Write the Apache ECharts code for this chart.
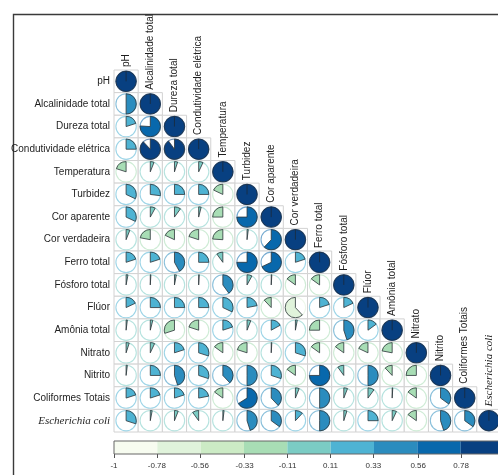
<!DOCTYPE html>
<html><head><meta charset="utf-8">
<script src="https://cdn.jsdelivr.net/npm/echarts@6/dist/echarts.min.js"></script>
<style>html,body{margin:0;padding:0;background:#fff}#c{width:498px;height:475px}</style>
</head><body><div id="c"></div>
<script>
const variables = ['pH','Alcalinidade total','Dureza total','Condutividade elétrica','Temperatura','Turbidez','Cor aparente','Cor verdadeira','Ferro total','Fósforo total','Flúor','Amônia total','Nitrato','Nitrito','Coliformes Totais','Escherichia coli'];

// lower-triangle correlation rows (column order = variables)
const r_pH            = [1];
const r_alcalinidade  = [0.50, 1];
const r_dureza        = [0.20, 0.76, 1];
const r_condutividade = [0.25, 0.88, 0.90, 1];
const r_temperatura   = [-0.20, 0.06, 0.05, 0.07, 1];
const r_turbidez      = [0.32, 0.27, 0.25, 0.25, -0.18, 1];
const r_corAparente   = [0.32, 0.08, 0.10, 0.04, -0.25, 0.75, 1];
const r_corVerdadeira = [0.06, -0.22, -0.18, -0.20, -0.24, 0.02, 0.62, 1];
const r_ferro         = [0.20, 0.20, 0.42, 0.25, -0.10, 0.75, 0.68, 0.20, 1];
const r_fosforo       = [0.03, 0.01, 0.03, 0.01, 0.40, 0.08, 0.01, -0.15, -0.15, 1];
const r_fluor         = [0.18, 0.25, 0.25, 0.25, 0.32, 0.22, -0.12, -0.62, 0.20, 0.18, 1];
const r_amonia        = [0.02, 0.04, -0.30, -0.20, 0.20, 0.06, 0.17, 0.03, -0.25, 0.45, 0.15, 1];
const r_nitrato       = [0.05, 0.07, 0.20, 0.30, -0.15, -0.20, 0.01, 0.30, -0.15, -0.15, -0.18, -0.22, 1];
const r_nitrito       = [0.02, 0.25, 0.45, 0.30, 0.38, 0.50, 0.30, -0.15, 0.75, -0.10, 0.50, -0.12, -0.25, 1];
const r_coliformes    = [0.20, 0.20, 0.20, 0.22, -0.15, 0.66, 0.38, 0.06, 0.50, 0.06, 0.10, 0.01, -0.15, 0.35, 1];
const r_ecoli         = [0.30, 0.03, 0.06, -0.10, 0.02, 0.45, 0.35, 0.12, 0.50, 0.05, 0.25, 0.07, -0.15, 0.45, 0.35, 1];

const rows = [r_pH, r_alcalinidade, r_dureza, r_condutividade, r_temperatura, r_turbidez, r_corAparente, r_corVerdadeira, r_ferro, r_fosforo, r_fluor, r_amonia, r_nitrato, r_nitrito, r_coliformes, r_ecoli];

const palette = ['#f7fcf0','#e0f3db','#ccebc5','#a8ddb5','#7bccc4','#4eb3d3','#2b8cbe','#0868ac','#084081'];
const scaleTicks = [-1, -0.78, -0.56, -0.33, -0.11, 0.11, 0.33, 0.56, 0.78, 1];
const scaleLabels = ['-1','-0.78','-0.56','-0.33','-0.11','0.11','0.33','0.56','0.78','1'];

function colorOf(v){
  let i = Math.floor((v + 1) / (2/9));
  if (i < 0) i = 0; if (i > 8) i = 8;
  return palette[i];
}
function lighten(hex, t){
  const n = parseInt(hex.slice(1),16);
  const r=(n>>16)&255,g=(n>>8)&255,b=n&255;
  const f=c=>Math.round(c+(255-c)*t);
  return 'rgb('+f(r)+','+f(g)+','+f(b)+')';
}

const cells = [];
rows.forEach((row, i) => row.forEach((v, j) => cells.push([j, i, v])));

const bins = [];
for (let k = 0; k < 9; k++) bins.push([-1 + k*2/9, -1 + (k+1)*2/9, k]);

const font = 'Liberation Sans, Arial, sans-serif';
const serif = 'Liberation Serif, Times New Roman, serif';

function renderCell(params, api){
  const x = api.value(0), y = api.value(1), v = api.value(2);
  const c = api.coord([x, y]);
  const s = api.size([1, 1]);
  const cw = s[0], ch = s[1];
  const r = 10.2;
  const col = colorOf(v);
  const children = [];
  children.push({type:'rect', shape:{x:c[0]-cw/2, y:c[1]-ch/2, width:cw, height:ch},
    style:{fill:'#fff', stroke:'#d2d2d2', lineWidth:1}});
  children.push({type:'circle', shape:{cx:c[0], cy:c[1], r:r},
    style:{fill:'#fff', stroke:lighten(col, 0.45), lineWidth:1.1}});
  const a0 = -Math.PI/2;
  if (Math.abs(v) >= 0.999) {
    children.push({type:'circle', shape:{cx:c[0], cy:c[1], r:r}, style:{fill:col, stroke:'#1b2a3a', lineWidth:0.8}});
    children.push({type:'line', shape:{x1:c[0], y1:c[1], x2:c[0], y2:c[1]-r}, style:{stroke:'#1b2a3a', lineWidth:0.8}});
  } else {
    const ang = Math.abs(v) * Math.PI * 2;
    const pos = v >= 0;
    children.push({type:'sector', shape:{cx:c[0], cy:c[1], r0:0, r:r, startAngle:a0,
      endAngle: pos ? a0 + ang : a0 - ang, clockwise: pos},
      style:{fill:col, stroke:'#2b3338', lineWidth:0.8, lineJoin:'round'}});
  }
  if (x === y) {
    const name = variables[x];
    const isE = name === 'Escherichia coli';
    children.push({type:'text', x:c[0], y:c[1]-ch/2-3, rotation:Math.PI/2,
      style:{text:name, fill:'#1e1e1e', fontSize: isE ? 11 : 10, fontFamily: isE ? serif : font,
        fontStyle: isE ? 'italic' : 'normal', align:'left', verticalAlign:'middle'}});
  }
  return {type:'group', children:children};
}

function renderBin(params, api){
  const lo = api.value(0), hi = api.value(1), k = api.value(2);
  const p0 = api.coord([lo, 1]), p1 = api.coord([hi, 0]);
  return {type:'rect', shape:{x:p0[0], y:p0[1], width:p1[0]-p0[0], height:p1[1]-p0[1]},
    style:{fill:palette[k]}};
}
function renderOutline(params, api){
  const p0 = api.coord([-1, 1]), p1 = api.coord([1, 0]);
  return {type:'rect', shape:{x:p0[0], y:p0[1], width:p1[0]-p0[0], height:p1[1]-p0[1]},
    style:{fill:'none', stroke:'#666', lineWidth:1}};
}

const chart = echarts.init(document.getElementById('c'), null, {renderer:'canvas'});
chart.setOption({
  animation:false,
  backgroundColor:'#fff',
  graphic:[{type:'rect', left:11, top:12, shape:{width:600, height:600},
    style:{fill:'none', stroke:'#3a3a3a', lineWidth:1.4}, z:-10}],
  grid:[
    {left:114, top:70, width:387, height:362, outerBoundsMode:'none'},
    {left:114, top:441, width:390, height:13, outerBoundsMode:'none'}
  ],
  xAxis:[
    {type:'category', gridIndex:0, data:variables, show:false},
    {type:'value', gridIndex:1, min:-1, max:1,
      axisLine:{show:false}, splitLine:{show:false},
      axisTick:{show:true, customValues:scaleTicks, length:4, lineStyle:{color:'#555', width:1}},
      axisLabel:{show:true, customValues:scaleTicks, margin:8, fontSize:8, color:'#333', fontFamily:font,
        formatter:function(val){ let b=0; for(let i=1;i<scaleTicks.length;i++){ if(Math.abs(scaleTicks[i]-val)<Math.abs(scaleTicks[b]-val)) b=i;} return scaleLabels[b]; }}}
  ],
  yAxis:[
    {type:'category', gridIndex:0, data:variables, inverse:true,
      axisLine:{show:false}, axisTick:{show:false}, splitLine:{show:false},
      axisLabel:{margin:4, fontSize:10, color:'#1e1e1e', fontFamily:font,
        formatter:function(v){ return v === 'Escherichia coli' ? '{it|' + v + '}' : v; },
        rich:{it:{fontFamily:serif, fontStyle:'italic', fontSize:11, color:'#1e1e1e'}}}},
    {type:'value', gridIndex:1, min:0, max:1, show:false}
  ],
  series:[
    {type:'custom', xAxisIndex:0, yAxisIndex:0, data:cells, renderItem:renderCell, clip:false, silent:true},
    {type:'custom', xAxisIndex:1, yAxisIndex:1, data:bins, renderItem:renderBin, clip:false, silent:true},
    {type:'custom', xAxisIndex:1, yAxisIndex:1, data:[[0]], renderItem:renderOutline, clip:false, silent:true, z:5}
  ]
});
</script></body></html>
